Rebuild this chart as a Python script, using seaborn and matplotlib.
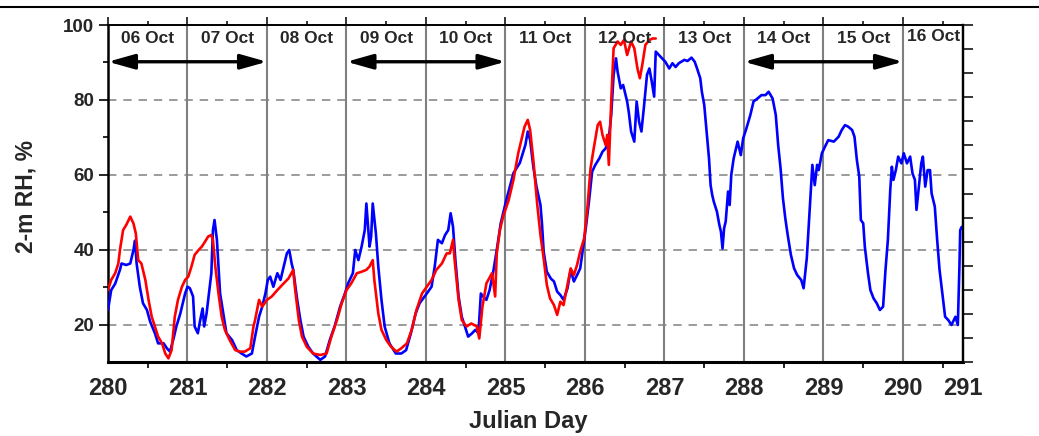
import numpy as np
import pandas as pd
import matplotlib
matplotlib.use("Agg")
import matplotlib.pyplot as plt
import seaborn as sns
from matplotlib.patches import FancyArrowPatch
from matplotlib.lines import Line2D

# ---------------- data ----------------
blue_day = [280.00, 280.04, 280.09, 280.15, 280.17, 280.23, 280.28, 280.32, 280.34, 280.36, 280.40, 280.44,
            280.49, 280.53, 280.59, 280.63, 280.70, 280.74, 280.78, 280.82, 280.86, 280.91, 280.97, 281.00,
            281.03, 281.07, 281.09, 281.13, 281.16, 281.19, 281.21, 281.24, 281.28, 281.30, 281.32, 281.34,
            281.37, 281.41, 281.45, 281.49, 281.56, 281.62, 281.68, 281.74, 281.81, 281.85, 281.90, 281.94,
            281.98, 282.01, 282.04, 282.08, 282.13, 282.17, 282.21, 282.25, 282.28, 282.31, 282.33, 282.38,
            282.42, 282.46, 282.52, 282.58, 282.67, 282.73, 282.79, 282.85, 282.92, 282.98, 283.02, 283.08,
            283.11, 283.15, 283.19, 283.23, 283.25, 283.29, 283.31, 283.33, 283.37, 283.40, 283.44, 283.48,
            283.54, 283.62, 283.69, 283.75, 283.81, 283.87, 283.92, 284.01, 284.07, 284.11, 284.15, 284.20,
            284.24, 284.28, 284.31, 284.34, 284.37, 284.41, 284.45, 284.49, 284.53, 284.58, 284.62, 284.66,
            284.69, 284.72, 284.76, 284.80, 284.85, 284.89, 284.94, 285.01, 285.10, 285.18, 285.25, 285.28,
            285.31, 285.35, 285.39, 285.44, 285.46, 285.48, 285.52, 285.57, 285.61, 285.65, 285.69, 285.73,
            285.78, 285.82, 285.86, 285.90, 285.94, 285.98, 286.01, 286.05, 286.09, 286.13, 286.18, 286.22,
            286.26, 286.30, 286.33, 286.36, 286.39, 286.41, 286.45, 286.48, 286.53, 286.55, 286.58, 286.62,
            286.65, 286.68, 286.71, 286.74, 286.78, 286.81, 286.84, 286.87, 286.89, 286.93, 286.97, 287.01,
            287.06, 287.10, 287.14, 287.18, 287.21, 287.25, 287.29, 287.34, 287.38, 287.41, 287.45, 287.47,
            287.50, 287.53, 287.56, 287.58, 287.60, 287.62, 287.66, 287.69, 287.71, 287.73, 287.75, 287.77,
            287.80, 287.82, 287.84, 287.87, 287.92, 287.96, 287.99, 288.03, 288.08, 288.12, 288.17, 288.22,
            288.27, 288.31, 288.36, 288.40, 288.43, 288.46, 288.49, 288.52, 288.55, 288.59, 288.63, 288.67,
            288.72, 288.75, 288.79, 288.82, 288.84, 288.86, 288.89, 288.92, 288.94, 288.98, 289.02, 289.06,
            289.13, 289.19, 289.23, 289.27, 289.31, 289.36, 289.39, 289.42, 289.45, 289.47, 289.50, 289.52,
            289.56, 289.59, 289.63, 289.67, 289.71, 289.75, 289.78, 289.81, 289.84, 289.86, 289.88, 289.91,
            289.94, 289.98, 290.01, 290.05, 290.09, 290.12, 290.15, 290.17, 290.20, 290.23, 290.25, 290.28,
            290.31, 290.34, 290.36, 290.40, 290.43, 290.46, 290.49, 290.53, 290.57, 290.61, 290.66, 290.69,
            290.71, 290.72, 290.74]
blue_rh = [24.0, 29.3, 31.0, 34.7, 36.4, 36.0, 36.4, 40.0, 42.5, 36.4, 30.2, 25.8,
           24.0, 20.9, 17.8, 15.1, 15.1, 13.8, 12.9, 16.0, 19.6, 23.1, 28.4, 30.2,
           29.8, 27.6, 19.6, 17.8, 21.3, 24.4, 19.6, 23.1, 30.2, 33.8, 45.3, 48.0,
           42.7, 28.4, 23.1, 17.8, 16.0, 13.3, 12.4, 11.6, 12.4, 16.9, 22.2, 24.9,
           28.4, 32.0, 32.9, 30.2, 33.8, 32.0, 35.6, 39.1, 40.0, 36.4, 34.7, 26.7,
           21.3, 16.9, 14.2, 12.4, 10.7, 11.6, 16.0, 19.6, 24.9, 28.4, 31.1, 33.8,
           40.0, 37.3, 40.9, 45.3, 52.4, 40.9, 43.6, 52.4, 44.4, 35.6, 26.7, 19.6,
           15.1, 12.4, 12.4, 13.3, 17.8, 23.1, 25.8, 28.4, 30.2, 35.6, 42.7, 41.8,
           44.0, 45.3, 49.8, 46.2, 37.3, 27.6, 22.2, 19.6, 16.9, 17.8, 18.7, 17.8,
           28.4, 27.6, 26.7, 29.3, 34.7, 40.0, 47.1, 53.3, 60.5, 63.2, 68.0, 71.6,
           69.3, 62.2, 56.9, 52.0, 46.7, 39.6, 34.2, 32.4, 31.6, 28.9, 28.0, 26.7,
           29.8, 34.7, 31.6, 33.3, 35.1, 41.3, 45.8, 52.9, 60.9, 62.7, 64.4, 66.2,
           67.1, 69.8, 76.0, 86.7, 91.1, 87.6, 83.1, 84.0, 79.6, 76.9, 71.6, 68.9,
           79.6, 74.2, 71.6, 77.8, 86.7, 88.4, 84.9, 80.9, 92.9, 92.0, 91.1, 90.2,
           88.4, 89.8, 88.8, 89.8, 90.2, 90.7, 90.4, 91.3, 90.2, 88.4, 85.8, 82.2,
           78.7, 71.6, 64.4, 57.3, 54.7, 52.9, 50.2, 46.7, 44.9, 40.4, 45.8, 47.6,
           55.6, 52.0, 60.0, 64.4, 68.9, 65.3, 69.8, 72.4, 76.0, 79.6, 80.4, 81.3,
           81.3, 82.2, 80.4, 76.0, 68.0, 61.8, 53.8, 48.4, 44.0, 38.7, 35.1, 33.3,
           32.0, 29.8, 37.8, 48.4, 55.6, 62.7, 57.3, 62.7, 61.3, 65.8, 67.6, 69.3,
           68.9, 70.2, 72.0, 73.3, 72.9, 72.0, 70.2, 64.0, 59.6, 48.0, 47.1, 40.9,
           33.8, 29.3, 27.1, 25.8, 24.0, 24.9, 34.7, 42.7, 56.0, 62.2, 58.7, 61.3,
           64.9, 63.1, 65.8, 63.1, 64.9, 60.4, 58.7, 50.7, 56.9, 63.1, 64.9, 56.9,
           61.3, 61.3, 55.1, 51.6, 42.7, 34.7, 29.3, 22.2, 21.3, 20.0, 22.2, 20.0,
           35.6, 45.3, 46.2]

red_day = [280.00, 280.04, 280.09, 280.13, 280.15, 280.19, 280.23, 280.28, 280.32, 280.35, 280.38, 280.42,
           280.47, 280.51, 280.55, 280.59, 280.63, 280.68, 280.72, 280.76, 280.80, 280.84, 280.88, 280.93,
           280.97, 281.01, 281.05, 281.09, 281.14, 281.18, 281.22, 281.26, 281.30, 281.32, 281.35, 281.39,
           281.43, 281.47, 281.53, 281.60, 281.66, 281.72, 281.79, 281.83, 281.85, 281.90, 281.94, 282.00,
           282.06, 282.13, 282.21, 282.27, 282.33, 282.35, 282.40, 282.44, 282.50, 282.58, 282.67, 282.75,
           282.81, 282.88, 282.94, 283.00, 283.06, 283.13, 283.19, 283.25, 283.29, 283.33, 283.35, 283.40,
           283.44, 283.50, 283.56, 283.63, 283.69, 283.76, 283.82, 283.88, 283.95, 284.01, 284.07, 284.13,
           284.20, 284.26, 284.30, 284.34, 284.36, 284.41, 284.45, 284.51, 284.57, 284.64, 284.67, 284.71,
           284.76, 284.83, 284.87, 284.89, 284.93, 284.97, 285.04, 285.10, 285.16, 285.20, 285.24, 285.28,
           285.31, 285.35, 285.40, 285.44, 285.48, 285.52, 285.56, 285.61, 285.65, 285.69, 285.73, 285.78,
           285.82, 285.86, 285.90, 285.94, 285.99, 286.03, 286.07, 286.11, 286.16, 286.19, 286.22, 286.26,
           286.28, 286.30, 286.33, 286.36, 286.41, 286.45, 286.49, 286.53, 286.58, 286.62, 286.66, 286.69,
           286.72, 286.76, 286.81, 286.85, 286.89]
red_rh = [29.3, 32.0, 33.8, 36.4, 40.0, 45.3, 46.7, 48.9, 47.1, 44.4, 37.3, 36.4,
          32.0, 26.7, 22.2, 19.6, 16.9, 15.1, 12.4, 11.1, 13.3, 22.2, 26.7, 30.2,
          32.0, 32.9, 35.6, 38.7, 40.0, 40.9, 42.2, 43.6, 44.0, 42.7, 35.6, 28.4,
          22.2, 18.7, 16.0, 13.3, 12.9, 12.9, 13.8, 19.6, 21.3, 26.7, 24.9, 26.7,
          27.6, 29.3, 31.1, 32.4, 34.7, 30.2, 21.3, 16.9, 14.2, 12.4, 12.0, 12.4,
          16.9, 21.3, 25.8, 29.3, 31.1, 33.8, 34.2, 34.7, 35.6, 37.3, 32.0, 23.1,
          18.7, 16.0, 14.2, 12.9, 13.8, 15.1, 18.7, 24.0, 28.4, 30.2, 32.0, 34.7,
          36.4, 39.1, 39.1, 42.7, 37.3, 26.7, 21.3, 19.6, 20.4, 19.6, 16.4, 24.9,
          31.1, 33.8, 27.6, 39.1, 45.3, 48.9, 53.3, 58.7, 65.8, 69.3, 72.9, 74.7,
          72.0, 64.0, 52.0, 44.0, 37.8, 30.7, 27.1, 25.3, 22.7, 26.2, 25.3, 30.7,
          35.1, 33.3, 36.0, 39.6, 43.1, 51.1, 61.8, 67.1, 73.3, 74.2, 70.7, 68.0,
          70.7, 62.7, 79.6, 93.8, 95.6, 94.7, 96.0, 92.0, 95.6, 93.8, 88.4, 85.8,
          89.3, 94.7, 96.0, 96.4, 96.4]

date_labels = ["06 Oct", "07 Oct", "08 Oct", "09 Oct", "10 Oct", "11 Oct",
               "12 Oct", "13 Oct", "14 Oct", "15 Oct", "16 Oct"]
day_ticks = [280, 281, 282, 283, 284, 285, 286, 287, 288, 289, 290]
x_tick_labels = ["280", "281", "282", "283", "284", "285", "286", "287", "288", "289", "290", "291"]
y_ticks = [20, 40, 60, 80, 100]
arrow_spans = [(280, 282), (283, 285), (288, 290)]

# ---------------- style ----------------
sns.set_style("white")
plt.rcParams['font.family'] = ['Liberation Sans', 'DejaVu Sans']
plt.rcParams['font.weight'] = 'bold'
plt.rcParams['axes.labelweight'] = 'bold'

W, H = 1039, 436
fig = plt.figure(figsize=(W / 100, H / 100), dpi=100)
ax = fig.add_axes([108 / W, 74 / H, 855 / W, 337 / H])

XMAX = 290.755
ax.set_xlim(280, XMAX)
ax.set_ylim(10.13, 100)

# grid-like reference lines
for d in day_ticks[1:]:
    ax.axvline(d, color='#7f7f7f', lw=1.5, zorder=1)
for v in [20, 40, 60, 80]:
    ax.axhline(v, color='#808080', lw=1.1, ls=(0, (5.5, 4.5)), zorder=1)

blue_df = pd.DataFrame({"day": blue_day, "rh": blue_rh})
red_df = pd.DataFrame({"day": red_day, "rh": red_rh})
sns.lineplot(data=blue_df, x="day", y="rh", color='#0000ff', lw=1.9, ax=ax,
             estimator=None, sort=False, zorder=3)
sns.lineplot(data=red_df, x="day", y="rh", color='#ff0000', lw=1.9, ax=ax,
             estimator=None, sort=False, zorder=4)

# date labels
for i, lab in enumerate(date_labels):
    xc = day_ticks[i] + 0.5 if i < len(day_ticks) - 1 else 290.38
    yc = 96.3 if i < len(day_ticks) - 1 else 97.0
    ax.text(xc, yc, lab, ha='center', va='center', fontsize=12.5, fontweight='bold', zorder=5)

# arrows
for a, b in arrow_spans:
    arr = FancyArrowPatch((a, 90.2), (b, 90.2), arrowstyle='<|-|>,head_length=1.6,head_width=0.45',
                          mutation_scale=10, lw=2.4, color='black', shrinkA=0, shrinkB=0, zorder=6)
    ax.add_patch(arr)

# spines
for side, lw in [('left', 1.8), ('bottom', 2.2), ('top', 1.3), ('right', 1.6)]:
    ax.spines[side].set_visible(True)
    ax.spines[side].set_color('black')
    ax.spines[side].set_linewidth(lw)

# x axis (bottom)
ax.set_xticks(day_ticks + [XMAX])
ax.set_xticklabels(x_tick_labels, fontsize=17, fontweight='bold')
ax.set_xticks(np.arange(280.5, 290.6, 1.0), minor=True)
ax.tick_params(axis='x', which='major', bottom=True, top=False, length=0, pad=11)
ax.tick_params(axis='x', which='minor', bottom=True, top=False, direction='out', length=4, width=1.4)

# y axis (left)
ax.set_yticks(y_ticks)
ax.set_yticklabels([str(v) for v in y_ticks], fontsize=13.5, fontweight='bold')
ax.set_yticks([30, 50, 70, 90], minor=True)
ax.tick_params(axis='y', which='major', left=True, direction='out', length=6.3, width=1.4, pad=3.5)
ax.tick_params(axis='y', which='minor', left=True, direction='out', length=3.5, width=1.4)

ax.set_xlabel("Julian Day", fontsize=17, fontweight='bold')
ax.set_ylabel("2-m RH, %", fontsize=16.5, fontweight='bold')
ax.xaxis.set_label_coords(0.491, -0.143)
ax.yaxis.set_label_coords(-0.082, 0.49)

# top axis ticks
top = ax.secondary_xaxis('top')
top.set_xticks(day_ticks)
top.set_xticks(np.arange(280.5, 290.6, 1.0), minor=True)
top.tick_params(which='major', direction='out', length=6, width=1.3, labeltop=False)
top.tick_params(which='minor', direction='out', length=3, width=1.3)
top.set_xticklabels([])
top.spines['top'].set_linewidth(1.3)

# right axis ticks (unlabelled)
ax2 = ax.twinx()
ax2.set_ylim(0, 14)
ax2.set_yticks(list(range(15)))
ax2.tick_params(axis='y', right=True, direction='out', length=7, width=1.3, labelright=False)
ax2.grid(False)
for side in ['left', 'bottom', 'top']:
    ax2.spines[side].set_visible(False)
ax2.spines['right'].set_linewidth(1.6)
ax2.spines['right'].set_color('black')

# top border line of the figure
fig.add_artist(Line2D([0, 1], [1 - 7 / H, 1 - 7 / H], transform=fig.transFigure, color='black', lw=1.5))

fig.savefig("out.png", dpi=100, facecolor='white')
